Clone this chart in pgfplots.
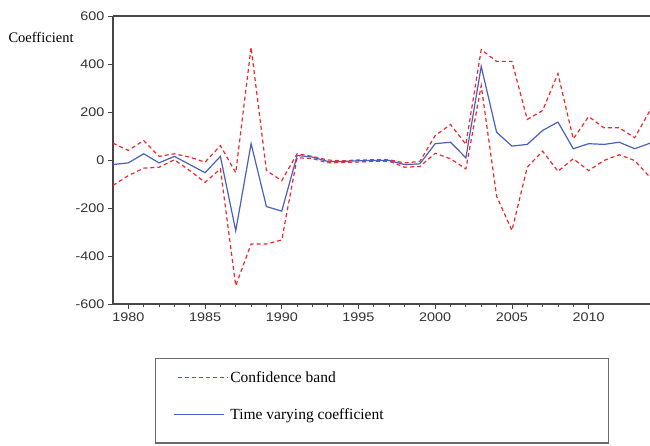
\documentclass[border=0pt]{standalone}
\usepackage{pgfplots}
\pgfplotsset{compat=1.18}
\usepackage{fontspec}
\setmainfont{Liberation Serif}
\newfontfamily\tickfont[FakeStretch=1.15]{Liberation Sans}
\definecolor{bandred}{RGB}{240,40,45}
\definecolor{coefblue}{RGB}{75,95,190}
\definecolor{framegray}{RGB}{70,70,70}
\pgfplotsset{blueimg/.style={legend image code/.code={\draw[##1,line width=0.8pt] (-4pt,5pt) -- (46pt,5pt);}}}
\pgfplotstableread{
year lower coef upper
1979 -106 -19 70
1980 -65 -12 40
1981 -34 26 81
1982 -30 -12 15
1983 1 15 26
1984 -44 -19 12
1985 -93 -53 -9
1986 -37 15 60
1987 -524 -295 -53
1988 -350 68 470
1989 -350 -194 -44
1990 -333 -213 -86
1991 9 19 26
1992 6 12 15
1993 -12 -6 0
1994 -10 -6 -3
1995 -8 -3 0
1996 -6 -2 1
1997 -5 -2 1
1998 -30 -19 -12
1999 -27 -16 -6
2000 28 68 102
2001 5 74 148
2002 -37 9 65
2003 310 390 460
2004 -150 116 411
2005 -294 58 411
2006 -30 65 169
2007 37 123 206
2008 -47 158 360
2009 5 47 88
2010 -44 68 181
2011 -2 65 134
2012 22 74 134
2013 -2 47 93
2014 -72 70 206
}\datatable
\begin{document}
\begin{tikzpicture}[x=1pt,y=1pt]
\useasboundingbox (0,-445) rectangle (650,0);
\begin{axis}[
  at={(113pt,-304pt)}, anchor=south west,
  width=537pt, height=288pt, scale only axis,
  xmin=1979, xmax=2014, ymin=-600, ymax=600,
  axis x line=box, axis y line=left,
  axis line style={draw=framegray, line width=1.1pt, -},
  xtick={1980,1985,...,2010},
  minor x tick num=4,
  ytick={-600,-400,...,600},
  tick align=outside,
  xtick pos=bottom, ytick pos=left,
  major tick length=5pt, minor tick length=3pt,
  every tick/.style={draw=framegray, line width=0.8pt},
  x tick label style={/pgf/number format/1000 sep={}},
  /pgf/number format/assume math mode=true,
  ticklabel style={font=\tickfont\fontsize{12.5}{13}\selectfont, text=black!80},
  ylabel={Coefficient},
  ylabel style={rotate=-90, anchor=center, at={(axis description cs:-0.134,0.927)}, font=\fontsize{14.5}{15}\selectfont},
  legend style={at={(axis description cs:0.0782,-0.1875)}, anchor=north west,
    draw=framegray!80, line width=1.2pt, inner xsep=18pt, inner ysep=11pt,
    row sep=21pt, font=\fontsize{15.5}{16}\selectfont},
  legend cell align=left,
  legend image code/.code={\draw[#1,line width=0.8pt] (0pt,0pt) -- (50pt,0pt);},
  clip=true,
]
\addplot[bandred, line width=1.2pt, dash pattern=on 4pt off 3pt] table[x=year,y=upper]{\datatable};
\addlegendentry{\makebox[358pt][l]{Confidence band}}
\addplot[bandred, line width=1.2pt, dash pattern=on 4pt off 3pt, forget plot] table[x=year,y=lower]{\datatable};
\addplot[coefblue, line width=1.2pt, blueimg] table[x=year,y=coef]{\datatable};
\addlegendentry[text depth=10pt]{\makebox[358pt][l]{Time varying coefficient}}
\end{axis}
\end{tikzpicture}
\end{document}
